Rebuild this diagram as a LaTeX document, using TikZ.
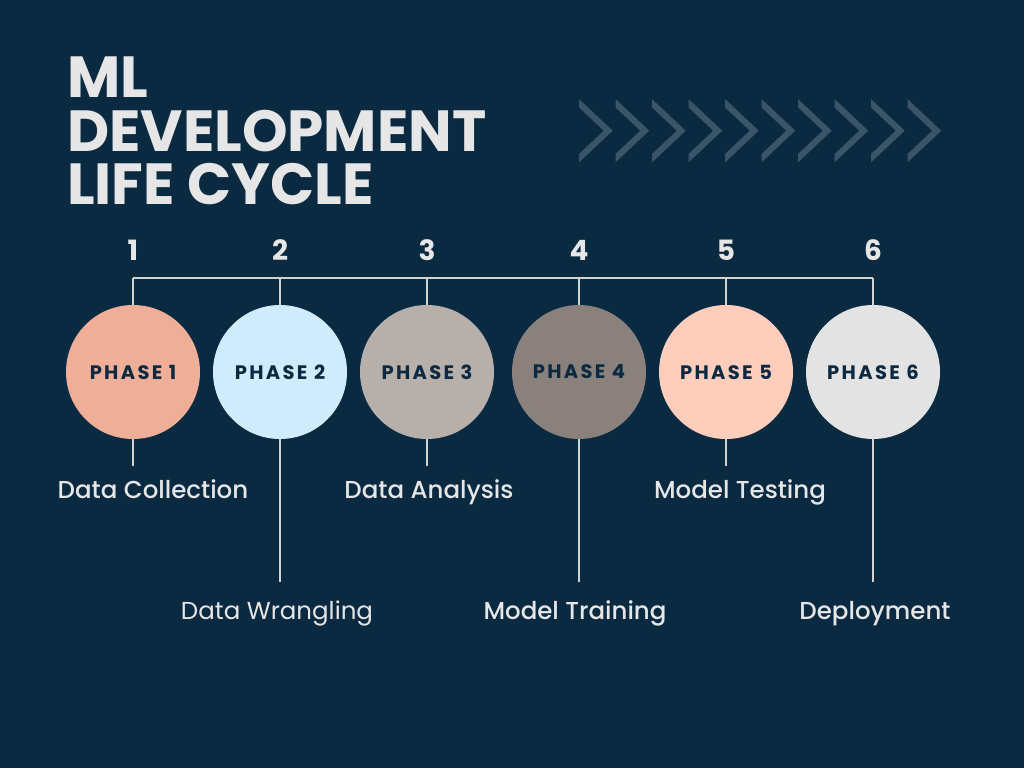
\documentclass[tikz,border=0pt]{standalone}
\usepackage{fontspec}
\setmainfont{Poppins}
\newfontfamily\medfont{Poppins Medium}
\newfontfamily\phasefont{Poppins}[LetterSpace=12]
\definecolor{bg}{HTML}{0A2A42}
\definecolor{ink}{HTML}{E6E6E6}
\definecolor{rule}{HTML}{D2D2D2}
\definecolor{chev}{HTML}{3A5468}
\definecolor{navy}{HTML}{0B2A42}
\definecolor{cA}{HTML}{EEAE98}
\definecolor{cB}{HTML}{D0ECFC}
\definecolor{cC}{HTML}{B6AFAA}
\definecolor{cD}{HTML}{8A817C}
\definecolor{cE}{HTML}{FFCDBB}
\definecolor{cF}{HTML}{E3E3E3}
\begin{document}
\begin{tikzpicture}[x=1pt,y=-1pt,
  title/.style={text=ink, inner sep=0pt, align=left, font=\bfseries\fontsize{58}{53.5}\selectfont},
  num/.style={text=ink, inner sep=0pt, font=\bfseries\fontsize{28}{28}\selectfont},
  phase/.style={circle, minimum size=134pt, inner sep=0pt, text=navy,
    font=\phasefont\bfseries\fontsize{19.5}{19.5}\selectfont},
  lbl/.style={text=ink, inner sep=0pt, font=\medfont\fontsize{24.5}{24.5}\selectfont},
  lbllight/.style={text=ink, inner sep=0pt, font=\fontsize{24.5}{24.5}\selectfont},
  link/.style={draw=rule, line width=2pt},
  chevron/.style={fill=chev}]
  % canvas
  \fill[bg] (0,0) rectangle (1024,768);
  \useasboundingbox (0,0) rectangle (1024,768);

  % heading
  \node[title, anchor=north west] (title) at (67,57) {ML\\DEVELOPMENT\\LIFE CYCLE};

  % row of chevrons
  \foreach \i in {0,...,9}
    \fill[chevron] ({579+36.5*\i},99) -- ++(33.7,31.7) -- ++(-33.7,31.7)
      -- ++(0,-8.4) -- ++(24.7,-23.3) -- ++(-24.7,-23.3) -- cycle;

  % phase circles
  \node[phase, fill=cA] (p1) at (133,372) {PHASE 1};
  \node[phase, fill=cB] (p2) at (280,372) {PHASE 2};
  \node[phase, fill=cC] (p3) at (427,372) {PHASE 3};
  \node[phase, fill=cD] (p4) at (579,372) {PHASE 4};
  \node[phase, fill=cE] (p5) at (726,372) {PHASE 5};
  \node[phase, fill=cF] (p6) at (873,372) {PHASE 6};

  % step numbers
  \node[num, anchor=base] (n1) at (133,260) {1};
  \node[num, anchor=base] (n2) at (280,260) {2};
  \node[num, anchor=base] (n3) at (427,260) {3};
  \node[num, anchor=base] (n4) at (579,260) {4};
  \node[num, anchor=base] (n5) at (726,260) {5};
  \node[num, anchor=base] (n6) at (873,260) {6};

  % top bracket
  \coordinate (t1) at (133,278);
  \coordinate (t2) at (280,278);
  \coordinate (t3) at (427,278);
  \coordinate (t4) at (579,278);
  \coordinate (t5) at (726,278);
  \coordinate (t6) at (873,278);
  \draw[link] (t1) -- (t6);
  \foreach \k in {1,...,6} \draw[link] (t\k) -- (p\k);

  % drop lines
  \coordinate (b1) at (133,466);
  \coordinate (b2) at (280,582);
  \coordinate (b3) at (427,466);
  \coordinate (b4) at (579,582);
  \coordinate (b5) at (726,466);
  \coordinate (b6) at (873,582);
  \foreach \k in {1,...,6} \draw[link] (p\k) -- (b\k);

  % phase names
  \node[lbl, anchor=base] (l1) at (153,498) {Data Collection};
  \node[lbllight, anchor=base] (l2) at (277,619) {Data Wrangling};
  \node[lbl, anchor=base] (l3) at (429,498) {Data Analysis};
  \node[lbl, anchor=base] (l4) at (575,619) {Model Training};
  \node[lbl, anchor=base] (l5) at (740,498) {Model Testing};
  \node[lbl, anchor=base] (l6) at (875,619) {Deployment};
\end{tikzpicture}
\end{document}
